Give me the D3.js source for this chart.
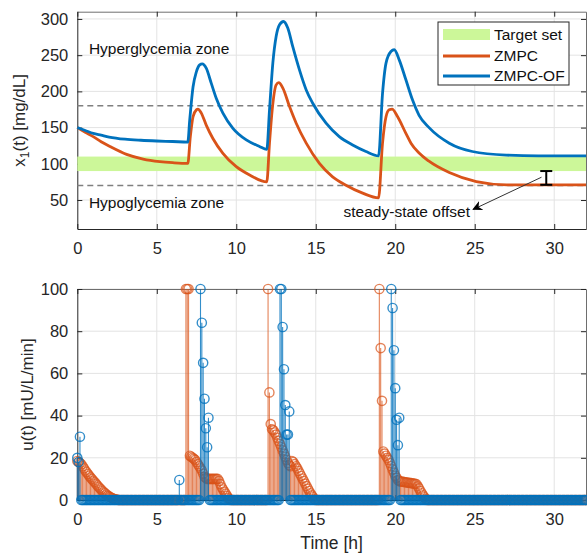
<!DOCTYPE html>
<html>
<head>
<meta charset="utf-8">
<script src="https://cdn.jsdelivr.net/npm/d3@7"></script>
<style>
  body { margin: 0; background: #fff; }
  svg { display: block; }
  text { font-family: "Liberation Sans", Arial, Helvetica, sans-serif; }
</style>
</head>
<body>
<svg id="chart" width="587" height="553"></svg>
<script>
// ---------- Glucose trajectories x1(t) [mg/dL] vs time [h] ----------
const timeZmpc = [0, 0.5, 1, 1.5, 2.05, 3.1, 4.14, 5.19, 6.0, 6.95, 7.11, 7.28, 7.49, 7.59, 7.8, 8.11, 8.53, 9.16, 10.0, 10.84, 11.92,
  12.09, 12.26, 12.51, 12.67, 12.93, 13.35, 13.77, 14.4, 15.23, 16.06, 16.9, 17.95, 18.95,
  19.2, 19.42, 19.62, 19.8, 20.15, 20.67, 21.0, 21.5, 22.1, 23.4, 25.1, 27, 29, 32];
const glucoseZmpc = [150, 143.5, 137.5, 130.5, 124, 113, 106.5, 103, 101.5, 100.5, 137.5, 165, 174.5, 175.5, 170, 153.5, 135, 114.5, 96, 84.5, 75,
  128.5, 174.5, 209, 212, 204.5, 179, 156, 128.5, 100.5, 82, 70.5, 59.5, 53,
  128.5, 165, 174.5, 175.5, 165, 142, 128, 115, 104, 88, 75.5, 71, 71, 71];

const timeZmpcOf = [0, 0.5, 1, 1.5, 2, 3, 4, 5, 6, 6.95, 7.07, 7.28, 7.49, 7.7, 7.86, 8.11, 8.43, 8.74, 9.16, 9.79, 10.63, 11.46, 11.92,
  12.09, 12.3, 12.51, 12.72, 12.97, 13.24, 13.55, 13.97, 14.4, 14.8, 15.65, 16.48, 17.32, 18.16, 18.95,
  19.2, 19.42, 19.73, 19.94, 20.25, 20.67, 21.09, 21.5, 22.13, 23.4, 24.85, 27, 29, 32];
const glucoseZmpcOf = [150, 146, 142, 139.5, 137, 134, 132.5, 131.5, 130.8, 130, 160, 206, 227, 236.5, 238, 232, 211, 190.5, 170, 149, 133, 124, 120,
  174, 239, 276, 292, 296.5, 287.5, 262, 230, 202, 184, 156, 137.5, 126, 117, 111,
  197, 239, 255, 257.5, 243.5, 216, 188, 167, 150, 128.5, 117, 112, 111, 111];

const targetSet = [90, 110];          // mg/dL
const glycemiaLimits = [70, 180];     // hypo / hyper thresholds
const offsetTime = 29.5;              // where the steady-state offset is marked
const offsetRange = [71, 90];         // ZMPC steady state -> lower edge of target set

// ---------- Insulin infusion u(t) [mU/L/min], sampled every 5 min ----------
const samplePeriodMin = 5;
const horizonH = 32;

// ZMPC: start minute of each non-zero stretch and its samples
const uZmpcStartMin = [0, 410, 720, 1140];
const uZmpcNight = [18.5, 18, 17.5, 17, 16, 15, 14, 13.2, 12.3, 11.5, 10.7, 10, 9.2, 8.5, 7.8, 7, 6.3, 5.6, 5, 4.3, 3.7, 3.2, 2.6, 2.1, 1.7, 1.3, 1.0, 0.7, 0.5, 0.3, 0.2];
const uZmpcBreakfast = [100, 100, 100, 21, 20.5, 20, 19.5, 19, 18, 17, 16, 15, 14, 12.5, 11, 10.5, 10, 10, 10, 10, 10, 10, 10, 10, 10, 9, 7.5, 6, 5, 4, 3, 2, 1, 0.3];
const uZmpcLunch = [100, 51, 36, 33.5, 33, 32, 31, 29.5, 28, 26.5, 25, 23.5, 22, 20.5, 19, 17.5, 16.5, 16, 18.5, 18, 17, 16, 15, 13.8, 12.6, 11.4, 10.2, 9, 7.8, 6.6, 5.4, 4.3, 3.2, 2.2, 1.3, 0.5];
const uZmpcDinner = [100, 72, 47, 23, 22, 21, 20, 19, 17.5, 16, 14.5, 13, 11.5, 10.5, 9.5, 9, 8.8, 8.7, 8.6, 8.5, 8.4, 8.3, 8.2, 8.1, 8.0, 7.9, 7.8, 7.7, 7.5, 6.5, 5.5, 4.3, 3.2, 2.2, 1.3, 0.5];

// ZMPC-OF
const uZmpcOfStartMin = [0, 385, 465, 765, 1185];
const uZmpcOfNight = [20, 18, 30];
const uZmpcOfPre = [9.5];
const uZmpcOfBreakfast = [100, 84, 65, 48, 34, 25, 39];
const uZmpcOfLunch = [100, 100, 82, 62, 45, 31, 31, 42];
const uZmpcOfDinner = [100, 91, 71, 53, 38, 26, 39];

// ---------- Axis ticks ----------
const xTicks = [0, 5, 10, 15, 20, 25, 30];
const yTicksGlucose = [50, 100, 150, 200, 250, 300];
const yTicksInsulin = [0, 20, 40, 60, 80, 100];

// ---------- Styling ----------
const cOrange = "#D95319";
const cBlue = "#0072BD";
const cGreen = "#ccf799";
const cAxis = "#262626";
const cGrid = "#e3e3e3";
const tickFont = "16.5px";

const svg = d3.select("#chart");

const left = 77.3, right = 586;
const top1 = 11.7, bottom1 = 229;
const top2 = 289, bottom2 = 500;

const x1 = d3.scaleLinear().domain([0, 32]).range([left, right]);
const y1 = d3.scaleLinear().domain([10, 310]).range([bottom1, top1]);
const x2 = d3.scaleLinear().domain([0, 32]).range([left, right]);
const y2 = d3.scaleLinear().domain([0, 100]).range([bottom2, top2]);

// Grid, box and inward ticks for one set of axes
function drawAxes(x, y, yTicks) {
  const [y0, yTop] = y.range();
  const [xl, xr] = x.range();
  const g = svg.append("g");
  g.append("g").selectAll("line").data(xTicks.filter(d => d > 0)).join("line")
    .attr("x1", d => x(d)).attr("x2", d => x(d))
    .attr("y1", y0).attr("y2", yTop)
    .attr("stroke", cGrid).attr("stroke-width", 1);
  g.append("g").selectAll("line").data(yTicks).join("line")
    .attr("x1", xl).attr("x2", xr)
    .attr("y1", d => y(d)).attr("y2", d => y(d))
    .attr("stroke", cGrid).attr("stroke-width", 1);

  // mirrored ticks on top / right
  const axTop = g.append("g").attr("transform", `translate(0,${yTop})`)
    .call(d3.axisTop(x).tickValues(xTicks).tickSize(-5).tickSizeOuter(0).tickFormat(""));
  const axRight = g.append("g").attr("transform", `translate(${xr},0)`)
    .call(d3.axisRight(y).tickValues(yTicks).tickSize(-5).tickSizeOuter(0).tickFormat(""));
  [axTop, axRight].forEach(a => {
    a.select(".domain").attr("stroke", "#6e6e6e");
    a.selectAll(".tick line").attr("stroke", cAxis);
  });

  const axB = g.append("g").attr("transform", `translate(0,${y0})`)
    .call(d3.axisBottom(x).tickValues(xTicks).tickSize(-5).tickSizeOuter(0).tickPadding(13));
  const axL = g.append("g").attr("transform", `translate(${xl},0)`)
    .call(d3.axisLeft(y).tickValues(yTicks).tickSize(-5).tickSizeOuter(0).tickPadding(9));
  [axB, axL].forEach(a => {
    a.select(".domain").attr("stroke", cAxis);
    a.selectAll(".tick line").attr("stroke", cAxis);
    a.selectAll(".tick text").attr("fill", cAxis).style("font-size", tickFont)
      .style("font-family", '"Liberation Sans", Arial, sans-serif');
  });
}

// ================= Top panel: glucose =================
drawAxes(x1, y1, yTicksGlucose);

svg.append("rect")
  .attr("x", left).attr("width", right - left)
  .attr("y", y1(targetSet[1])).attr("height", y1(targetSet[0]) - y1(targetSet[1]))
  .attr("fill", cGreen);

svg.append("g").selectAll("line").data(glycemiaLimits).join("line")
  .attr("x1", left).attr("x2", right)
  .attr("y1", d => y1(d)).attr("y2", d => y1(d))
  .attr("stroke", "#7f7f7f").attr("stroke-width", 1.5).attr("stroke-dasharray", "6,4");

const glucoseLine = d3.line().x(d => x1(d[0])).y(d => y1(d[1])).curve(d3.curveMonotoneX);
svg.append("path").datum(d3.zip(timeZmpc, glucoseZmpc))
  .attr("d", glucoseLine).attr("fill", "none").attr("stroke", cOrange).attr("stroke-width", 2.8);
svg.append("path").datum(d3.zip(timeZmpcOf, glucoseZmpcOf))
  .attr("d", glucoseLine).attr("fill", "none").attr("stroke", cBlue).attr("stroke-width", 2.8);

svg.append("text").attr("x", x1(0.73)).attr("y", y1(259)).attr("dy", "0.35em")
  .style("font-size", "15.5px").attr("fill", "#111").text("Hyperglycemia zone");
svg.append("text").attr("x", x1(0.73)).attr("y", y1(47)).attr("dy", "0.35em")
  .style("font-size", "15.5px").attr("fill", "#111").text("Hypoglycemia zone");

// steady-state offset marker
const ox = x1(offsetTime);
const eb = svg.append("g").attr("stroke", "#000").attr("stroke-width", 2);
eb.append("line").attr("x1", ox).attr("x2", ox).attr("y1", y1(offsetRange[0])).attr("y2", y1(offsetRange[1]));
eb.append("line").attr("x1", ox - 6).attr("x2", ox + 6).attr("y1", y1(offsetRange[0])).attr("y2", y1(offsetRange[0]));
eb.append("line").attr("x1", ox - 6).attr("x2", ox + 6).attr("y1", y1(offsetRange[1])).attr("y2", y1(offsetRange[1]));

svg.append("defs").append("marker")
  .attr("id", "arrowHead").attr("viewBox", "0 0 10 10").attr("refX", 9).attr("refY", 5)
  .attr("markerWidth", 10).attr("markerHeight", 10).attr("markerUnits", "userSpaceOnUse")
  .attr("orient", "auto")
  .append("path").attr("d", "M0,0 L10,5 L0,10 L3,5 Z").attr("fill", "#000");
svg.append("line")
  .attr("x1", x1(29.2)).attr("y1", y1(81.5))
  .attr("x2", x1(24.9)).attr("y2", y1(37))
  .attr("stroke", "#333").attr("stroke-width", 1)
  .attr("marker-end", "url(#arrowHead)");
svg.append("text").attr("x", x1(24.7)).attr("y", y1(33.4)).attr("dy", "0.35em")
  .attr("text-anchor", "end").style("font-size", "15.5px").attr("fill", "#111")
  .text("steady-state offset");

// legend
const lg = svg.append("g");
lg.append("rect").attr("x", 438).attr("y", 22).attr("width", 131).attr("height", 63)
  .attr("fill", "#fff").attr("stroke", cAxis).attr("stroke-width", 1);
lg.append("rect").attr("x", 443).attr("y", 29).attr("width", 47).attr("height", 11).attr("fill", cGreen);
lg.append("line").attr("x1", 443).attr("x2", 490).attr("y1", 56).attr("y2", 56)
  .attr("stroke", cOrange).attr("stroke-width", 2.8);
lg.append("line").attr("x1", 443).attr("x2", 490).attr("y1", 76).attr("y2", 76)
  .attr("stroke", cBlue).attr("stroke-width", 2.8);
[["Target set", 34.5], ["ZMPC", 56], ["ZMPC-OF", 76]].forEach(([t, yy]) => {
  lg.append("text").attr("x", 494).attr("y", yy).attr("dy", "0.35em")
    .style("font-size", "15.5px").attr("fill", "#111").text(t);
});

// y label with subscript
const yl1 = svg.append("text").attr("transform", `translate(25,${(top1 + bottom1) / 2}) rotate(-90)`)
  .attr("text-anchor", "middle").style("font-size", "17px").attr("fill", cAxis);
yl1.append("tspan").text("x");
yl1.append("tspan").attr("dy", 4).style("font-size", "12px").text("1");
yl1.append("tspan").attr("dy", -4).text("(t) [mg/dL]");

// ================= Bottom panel: insulin =================
drawAxes(x2, y2, yTicksInsulin);

const samples = d3.range(0, horizonH * 60 / samplePeriodMin + 1).map(k => k * samplePeriodMin / 60);
function buildSeries(startMin, bursts) {
  const u = samples.map(() => 0);
  startMin.forEach((s, i) => bursts[i].forEach((v, j) => { u[s / samplePeriodMin + j] = v; }));
  return samples.map((t, k) => ({ t, u: u[k] }));
}
const seriesZmpc = buildSeries(uZmpcStartMin, [uZmpcNight, uZmpcBreakfast, uZmpcLunch, uZmpcDinner]);
const seriesZmpcOf = buildSeries(uZmpcOfStartMin, [uZmpcOfNight, uZmpcOfPre, uZmpcOfBreakfast, uZmpcOfLunch, uZmpcOfDinner]);

function drawStems(data, color, opacity) {
  const g = svg.append("g");
  g.append("g").selectAll("line").data(data.filter(d => d.u > 0)).join("line")
    .attr("x1", d => x2(d.t)).attr("x2", d => x2(d.t))
    .attr("y1", y2(0)).attr("y2", d => y2(d.u))
    .attr("stroke", color).attr("stroke-opacity", opacity).attr("stroke-width", 1.1);
  g.append("g").selectAll("circle").data(data).join("circle")
    .attr("cx", d => x2(d.t)).attr("cy", d => y2(d.u)).attr("r", 4.6)
    .attr("fill", "none").attr("stroke", color).attr("stroke-opacity", opacity).attr("stroke-width", 1.4);
}
drawStems(seriesZmpc, cOrange, 0.72);
drawStems(seriesZmpcOf, cBlue, 0.8);

svg.append("text").attr("transform", `translate(32.5,${(top2 + bottom2) / 2}) rotate(-90)`)
  .attr("text-anchor", "middle").style("font-size", "17px").attr("fill", cAxis)
  .text("u(t) [mU/L/min]");

svg.append("text").attr("x", (left + right) / 2).attr("y", 549)
  .attr("text-anchor", "middle").style("font-size", "17.5px").attr("fill", cAxis)
  .text("Time [h]");
</script>
</body>
</html>
